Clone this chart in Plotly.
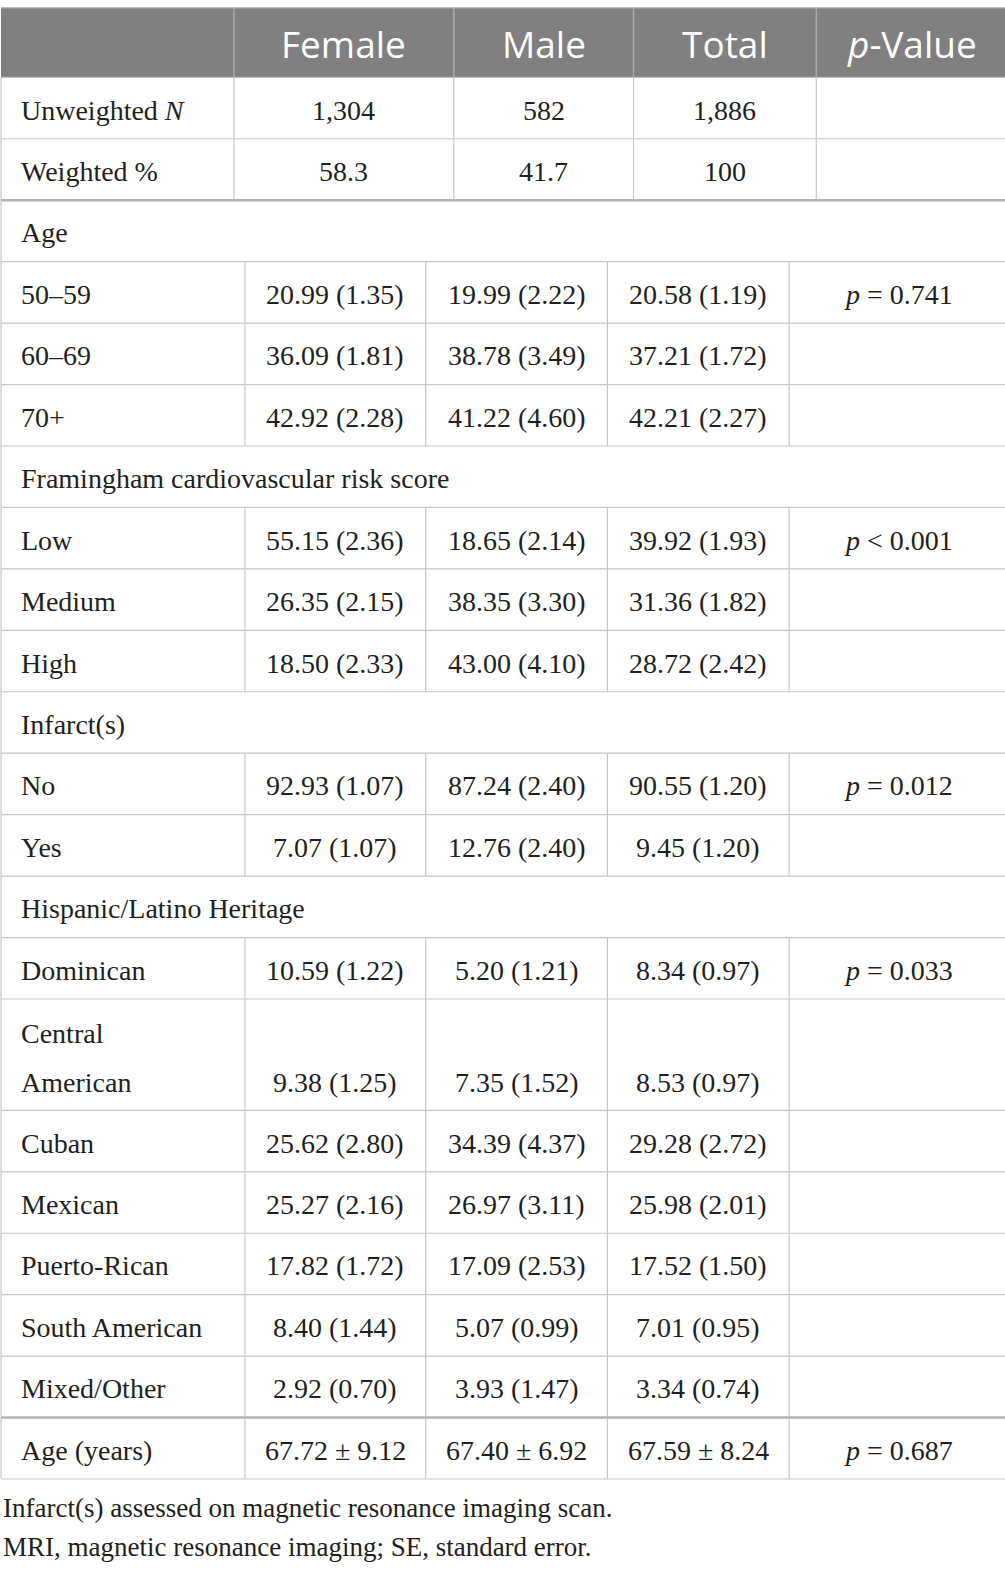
import plotly.graph_objects as go

# ---------------- data ----------------
header_labels = ["", "Female", "Male", "Total", "<i>p</i>-Value"]

row_labels = [
    "Unweighted <i>N</i>", "Weighted %",
    "Age", "50–59", "60–69", "70+",
    "Framingham cardiovascular risk score", "Low", "Medium", "High",
    "Infarct(s)", "No", "Yes",
    "Hispanic/Latino Heritage", "Dominican", "Central<br>American", "Cuban", "Mexican",
    "Puerto-Rican", "South American", "Mixed/Other",
    "Age (years)",
]
row_kind = [
    "summary", "summary",
    "section", "data", "data", "data",
    "section", "data", "data", "data",
    "section", "data", "data",
    "section", "data", "data2", "data", "data", "data", "data", "data",
    "data",
]
female = ["1,304", "58.3", "", "20.99 (1.35)", "36.09 (1.81)", "42.92 (2.28)",
          "", "55.15 (2.36)", "26.35 (2.15)", "18.50 (2.33)",
          "", "92.93 (1.07)", "7.07 (1.07)",
          "", "10.59 (1.22)", "9.38 (1.25)", "25.62 (2.80)", "25.27 (2.16)",
          "17.82 (1.72)", "8.40 (1.44)", "2.92 (0.70)",
          "67.72 ± 9.12"]
male = ["582", "41.7", "", "19.99 (2.22)", "38.78 (3.49)", "41.22 (4.60)",
        "", "18.65 (2.14)", "38.35 (3.30)", "43.00 (4.10)",
        "", "87.24 (2.40)", "12.76 (2.40)",
        "", "5.20 (1.21)", "7.35 (1.52)", "34.39 (4.37)", "26.97 (3.11)",
        "17.09 (2.53)", "5.07 (0.99)", "3.93 (1.47)",
        "67.40 ± 6.92"]
total = ["1,886", "100", "", "20.58 (1.19)", "37.21 (1.72)", "42.21 (2.27)",
         "", "39.92 (1.93)", "31.36 (1.82)", "28.72 (2.42)",
         "", "90.55 (1.20)", "9.45 (1.20)",
         "", "8.34 (0.97)", "8.53 (0.97)", "29.28 (2.72)", "25.98 (2.01)",
         "17.52 (1.50)", "7.01 (0.95)", "3.34 (0.74)",
         "67.59 ± 8.24"]
pvalue = ["", "", "", "<i>p</i> = 0.741", "", "",
          "", "<i>p</i> < 0.001", "", "",
          "", "<i>p</i> = 0.012", "",
          "", "<i>p</i> = 0.033", "", "", "", "", "", "",
          "<i>p</i> = 0.687"]
footnotes = ["Infarct(s) assessed on magnetic resonance imaging scan.",
             "MRI, magnetic resonance imaging; SE, standard error."]

# ---------------- layout constants ----------------
W, H = 1005, 1573
SCALE = 0.996            # compensates the slight shrink seen in the capture
X0, X1 = 1, 1003
HEAD_COLS = [X0, 233, 452, 631, 813, X1]
BODY_COLS = [X0, 244, 424, 605, 786, X1]
HEAD_TOP, HEAD_BOT = 8, 77
ROW_H = 61.2
ROW_H2 = 110.9
LINE_GAP = 49
THICK_AFTER = {1, 20}   # thick line below these row indices

SERIF = "Liberation Serif"
SANS = "Open Sans"
TXT = "#231f20"
GRID = "#c6c6c6"
THICK = "#b3b3b3"
HEAD_BG = "#808080"
HEAD_LINE = "#a9a9a9"
BODY_SIZE = 28
HEAD_SIZE = 37
FOOT_SIZE = 27

fig = go.Figure()
shapes = []
annos = []

def hline(y, width=1.2, color=GRID):
    shapes.append(dict(type="line", xref="x", yref="y", x0=X0, x1=X1, y0=y, y1=y,
                       line=dict(color=color, width=width), layer="above"))

def vline(x, ya, yb, color=GRID, width=1.2):
    shapes.append(dict(type="line", xref="x", yref="y", x0=x, x1=x, y0=ya, y1=yb,
                       line=dict(color=color, width=width), layer="above"))

def text(x, y, s, anchor="center", size=BODY_SIZE, family=SERIF, color=TXT):
    annos.append(dict(x=x, y=y, xref="x", yref="y", text=s, showarrow=False,
                      xanchor=anchor, yanchor="middle",
                      font=dict(family=family, size=size, color=color)))

# header
shapes.append(dict(type="rect", xref="x", yref="y", x0=X0, x1=X1, y0=HEAD_TOP, y1=HEAD_BOT,
                   fillcolor=HEAD_BG, line=dict(width=0), layer="below"))
hline(HEAD_TOP, 1.5, "#a0a0a0")
for cx in HEAD_COLS[1:-1]:
    vline(cx, HEAD_TOP, HEAD_BOT, HEAD_LINE, 1.5)
for i, lab in enumerate(header_labels):
    if lab:
        text((HEAD_COLS[i] + HEAD_COLS[i + 1]) / 2, (HEAD_TOP + HEAD_BOT) / 2 + 1, lab,
             size=HEAD_SIZE, family=SANS, color="white")
hline(HEAD_BOT, 1.2, "#bdbdbd")

# body
y = HEAD_BOT
for i, lab in enumerate(row_labels):
    kind = row_kind[i]
    h = ROW_H2 if kind == "data2" else ROW_H
    ya, yb = y, y + h
    cols = HEAD_COLS if kind == "summary" else BODY_COLS
    if kind != "section":
        for cx in cols[1:-1]:
            vline(cx, ya, yb)
    vline(X0, ya, yb)
    vline(X1, ya, yb)
    if kind == "data2":
        first, second = lab.split("<br>")
        ymid1 = ya + ROW_H / 2 + 4
        ymid2 = ymid1 + LINE_GAP
        text(19, ymid1, first, anchor="left")
        text(19, ymid2, second, anchor="left")
        yv = ymid2
    else:
        yv = ya + h / 2 + 2
        text(19, yv, lab, anchor="left")
    for j, vals in enumerate([female, male, total, pvalue]):
        if vals[i]:
            text((cols[j + 1] + cols[j + 2]) / 2, yv, vals[i])
    if i in THICK_AFTER:
        hline(yb, 2.6, THICK)
    else:
        hline(yb)
    y = yb

# footnotes
fy = y + 29
for k, fn in enumerate(footnotes):
    text(0.5, fy + k * 39, fn, anchor="left", size=FOOT_SIZE)

# invisible trace to establish axes
fig.add_trace(go.Scatter(x=[0, W], y=[0, H], mode="markers",
                         marker=dict(opacity=0), hoverinfo="skip", showlegend=False))

fig.update_layout(
    width=W, height=H,
    margin=dict(l=0, r=0, t=0, b=0),
    paper_bgcolor="white", plot_bgcolor="white",
    xaxis=dict(range=[0, W * SCALE], visible=False, fixedrange=True),
    yaxis=dict(range=[H * SCALE, 0], visible=False, fixedrange=True),
    shapes=shapes, annotations=annos,
    showlegend=False,
)

fig.write_html("out.html", config={"displayModeBar": False},
               post_script="document.body.style.margin='0';document.body.style.overflow='hidden';")
